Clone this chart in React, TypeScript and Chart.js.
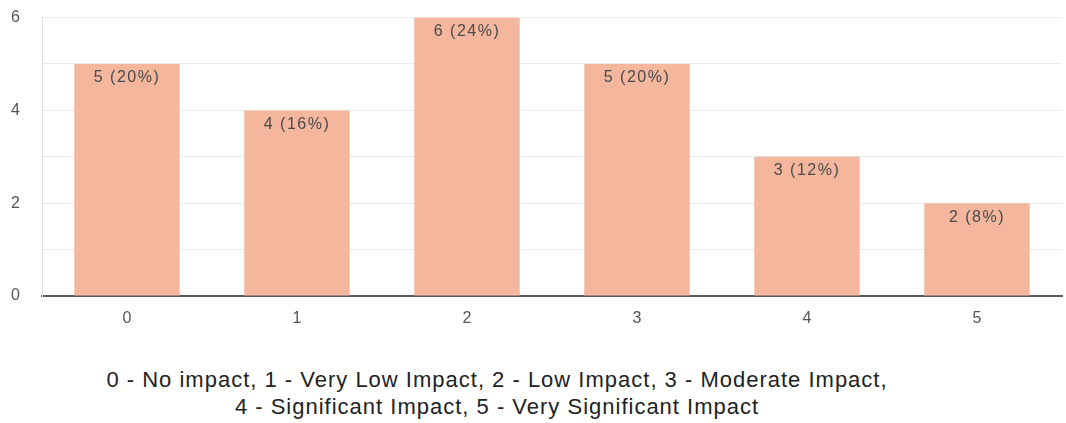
import React, { useEffect, useRef } from "react";
import { Chart, registerables } from "chart.js";

Chart.register(...registerables);

const categories = ["0", "1", "2", "3", "4", "5"];
const counts = [5, 4, 6, 5, 3, 2];
const percents = [20, 16, 24, 20, 12, 8];
const yTickLabels = [0, 2, 4, 6];
const captionLines = [
  "0 - No impact, 1 - Very Low Impact, 2 - Low Impact, 3 - Moderate Impact,",
  "4 - Significant Impact, 5 - Very Significant Impact",
];

const FONT = "'Liberation Sans', Arial, sans-serif";

const valueLabelPlugin = {
  id: "valueLabels",
  afterDatasetsDraw(chart: any) {
    const { ctx } = chart;
    const meta = chart.getDatasetMeta(0);
    ctx.save();
    ctx.font = `16px ${FONT}`;
    (ctx as any).letterSpacing = "1.5px";
    ctx.fillStyle = "#4a4a4a";
    ctx.textAlign = "center";
    ctx.textBaseline = "middle";
    meta.data.forEach((bar: any, i: number) => {
      ctx.fillText(`${counts[i]} (${percents[i]}%)`, bar.x, bar.y + 14);
    });
    ctx.restore();
  },
};

export default function App() {
  const ref = useRef<HTMLCanvasElement | null>(null);
  useEffect(() => {
    document.body.style.margin = "0";
    const chart = new Chart(ref.current!, {
      type: "bar",
      data: {
        labels: categories,
        datasets: [
          {
            data: counts,
            backgroundColor: "#f4b69d",
            categoryPercentage: 0.62,
            barPercentage: 1,
          },
        ],
      },
      options: {
        animation: false,
        responsive: false,
        maintainAspectRatio: false,
        layout: { padding: { top: 4, right: 4, left: 0, bottom: 0 } },
        plugins: { legend: { display: false }, tooltip: { enabled: false } },
        scales: {
          x: {
            grid: { display: false, drawTicks: false },
            border: { color: "#5a5a5a", width: 2 },
            ticks: { color: "#555", font: { size: 16, family: FONT }, padding: 13 },
            afterFit(scale: any) {
              scale.height = 34;
            },
          },
          y: {
            min: 0,
            max: 6,
            grid: { color: "#ececec", drawTicks: false },
            border: { color: "#e0e0e0", width: 1 },
            ticks: {
              stepSize: 1,
              color: "#555",
              font: { size: 16, family: FONT },
              padding: 22,
              callback: (v: any) => (yTickLabels.includes(Number(v)) ? String(v) : ""),
            },
            afterFit(scale: any) {
              scale.width = 42;
            },
          },
        },
      },
      plugins: [valueLabelPlugin],
    });
    return () => chart.destroy();
  }, []);

  return (
    <div style={{ position: "absolute", left: 0, top: 0, width: 1066, height: 423, background: "#fff", overflow: "hidden" }}>
      <canvas
        ref={ref}
        width={1066}
        height={344}
        style={{ display: "block", position: "absolute", left: 0, top: -14 }}
      />
      <div
        style={{
          position: "absolute",
          left: 0,
          top: 366,
          width: 994,
          textAlign: "center",
          fontFamily: FONT,
          fontSize: 22,
          letterSpacing: "1px",
          lineHeight: "27px",
          color: "#222",
        }}
      >
        {captionLines.map((l, i) => (
          <div key={i}>{l}</div>
        ))}
      </div>
    </div>
  );
}
